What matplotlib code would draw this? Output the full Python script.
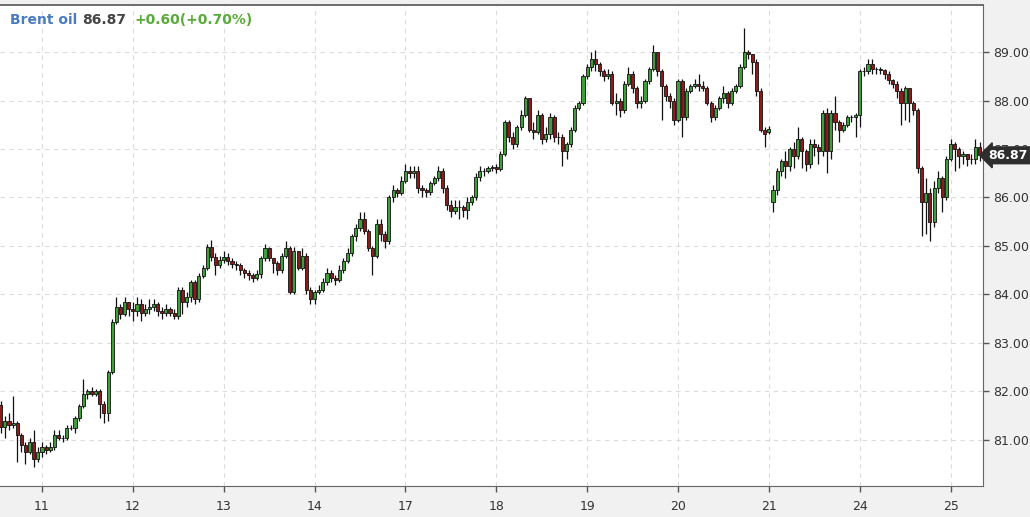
import numpy as np
import matplotlib
matplotlib.use("Agg")
import matplotlib.pyplot as plt

# trading days shown (day 10 and day 25 are partial)
day_labels = ["11", "12", "13", "14", "17", "18", "19", "20", "21", "24", "25"]
bars_per_day = 22
first_day_bars = 10   # bars of day 10 visible before the "11" tick

# hourly candles, one row per day
opens = [
    81.72, 81.27, 81.40, 81.30, 81.35, 81.10, 80.90, 80.75, 80.95, 80.60,
    80.75, 80.85, 80.80, 80.85, 81.10, 81.05, 81.05, 81.25, 81.25, 81.45, 81.70, 81.95, 82.00, 81.95, 82.00, 81.75, 81.55, 82.40, 83.43, 83.74, 83.60, 83.85,
    83.70, 83.65, 83.80, 83.62, 83.70, 83.75, 83.80, 83.65, 83.62, 83.70, 83.62, 83.55, 84.10, 83.85, 83.95, 84.25, 83.90, 84.38, 84.55, 84.98, 84.78, 84.60,
    84.72, 84.78, 84.70, 84.62, 84.60, 84.50, 84.45, 84.40, 84.35, 84.42, 84.75, 84.95, 84.75, 84.65, 84.50, 84.80, 84.95, 84.05, 84.90, 84.55, 84.80, 84.10,
    83.90, 84.05, 84.10, 84.25, 84.45, 84.35, 84.30, 84.50, 84.70, 84.85, 85.20, 85.38, 85.55, 85.30, 84.95, 84.80, 85.45, 85.25, 85.10, 86.00, 86.15, 86.10,
    86.35, 86.55, 86.50, 86.55, 86.20, 86.15, 86.12, 86.30, 86.40, 86.55, 86.20, 85.85, 85.72, 85.80, 85.80, 85.75, 85.90, 86.00, 86.42, 86.55, 86.55, 86.60,
    86.62, 86.58, 86.90, 87.55, 87.25, 87.10, 87.45, 87.70, 88.05, 87.40, 87.35, 87.70, 87.20, 87.30, 87.65, 87.25, 87.25, 86.95, 87.10, 87.40, 87.85, 87.95,
    88.50, 88.70, 88.85, 88.75, 88.60, 88.50, 88.55, 87.95, 88.00, 87.80, 88.35, 88.55, 88.25, 87.95, 88.00, 88.40, 88.65, 89.00, 88.60, 88.30, 88.10, 87.98,
    87.60, 88.40, 87.65, 88.20, 88.30, 88.35, 88.30, 88.25, 87.95, 87.65, 87.85, 88.05, 88.15, 87.95, 88.20, 88.30, 88.70, 89.00, 88.95, 88.80, 88.20, 87.40,
    87.35, 85.90, 86.15, 86.55, 86.75, 86.65, 87.00, 86.85, 87.20, 86.95, 86.70, 87.10, 87.05, 86.95, 87.75, 86.95, 87.75, 87.55, 87.40, 87.50, 87.65, 87.65,
    87.70, 88.60, 88.60, 88.75, 88.65, 88.65, 88.62, 88.55, 88.42, 88.35, 88.20, 87.95, 88.25, 87.95, 87.80, 86.60, 85.90, 86.10, 85.50, 86.20, 86.40, 86.00,
    86.80, 87.10, 87.00, 86.85, 86.90, 86.80, 86.80, 87.05,
]
closes = [
    81.27, 81.40, 81.30, 81.35, 81.10, 80.90, 80.75, 80.95, 80.60, 80.75,
    80.85, 80.80, 80.85, 81.10, 81.05, 81.05, 81.25, 81.25, 81.45, 81.70, 81.95, 82.00, 81.95, 82.00, 81.75, 81.55, 82.40, 83.43, 83.74, 83.60, 83.85, 83.70,
    83.65, 83.80, 83.62, 83.70, 83.75, 83.80, 83.65, 83.62, 83.70, 83.62, 83.55, 84.10, 83.85, 83.95, 84.25, 83.90, 84.38, 84.55, 84.98, 84.78, 84.60, 84.72,
    84.78, 84.70, 84.62, 84.60, 84.50, 84.45, 84.40, 84.35, 84.42, 84.75, 84.95, 84.75, 84.65, 84.50, 84.80, 84.95, 84.05, 84.90, 84.55, 84.80, 84.10, 83.90,
    84.05, 84.10, 84.25, 84.45, 84.35, 84.30, 84.50, 84.70, 84.85, 85.20, 85.38, 85.55, 85.30, 84.95, 84.80, 85.45, 85.25, 85.10, 86.00, 86.15, 86.10, 86.35,
    86.55, 86.50, 86.55, 86.20, 86.15, 86.12, 86.30, 86.40, 86.55, 86.20, 85.85, 85.72, 85.80, 85.80, 85.75, 85.90, 86.00, 86.42, 86.55, 86.55, 86.60, 86.62,
    86.58, 86.90, 87.55, 87.25, 87.10, 87.45, 87.70, 88.05, 87.40, 87.35, 87.70, 87.20, 87.30, 87.65, 87.25, 87.25, 86.95, 87.10, 87.40, 87.85, 87.95, 88.50,
    88.70, 88.85, 88.75, 88.60, 88.50, 88.55, 87.95, 88.00, 87.80, 88.35, 88.55, 88.25, 87.95, 88.00, 88.40, 88.65, 89.00, 88.60, 88.30, 88.10, 87.98, 87.60,
    88.40, 87.65, 88.20, 88.30, 88.35, 88.30, 88.25, 87.95, 87.65, 87.85, 88.05, 88.15, 87.95, 88.20, 88.30, 88.70, 89.00, 88.95, 88.80, 88.20, 87.40, 87.30,
    87.42, 86.15, 86.55, 86.75, 86.65, 87.00, 86.85, 87.20, 86.95, 86.70, 87.10, 87.05, 86.95, 87.75, 86.95, 87.75, 87.55, 87.40, 87.50, 87.65, 87.65, 87.70,
    88.60, 88.60, 88.75, 88.65, 88.65, 88.62, 88.55, 88.42, 88.35, 88.20, 87.95, 88.25, 87.95, 87.80, 86.60, 85.90, 86.10, 85.50, 86.20, 86.40, 86.00, 86.80,
    87.10, 87.00, 86.85, 86.90, 86.80, 86.80, 87.05, 86.87,
]
highs = [
    81.80, 81.50, 81.55, 81.90, 81.40, 81.15, 80.95, 81.05, 81.20, 80.85,
    80.95, 80.90, 80.95, 81.20, 81.20, 81.10, 81.30, 81.30, 81.50, 81.75, 82.25, 82.05, 82.10, 82.05, 82.05, 81.80, 82.45, 83.50, 83.95, 83.80, 83.95, 83.85,
    83.85, 83.95, 83.90, 83.80, 83.90, 83.90, 83.85, 83.75, 83.80, 83.75, 83.70, 84.15, 84.15, 84.05, 84.30, 84.30, 84.45, 84.60, 85.05, 85.12, 84.85, 84.80,
    84.90, 84.85, 84.75, 84.70, 84.65, 84.55, 84.50, 84.45, 84.50, 84.80, 85.05, 84.98, 84.75, 84.70, 84.85, 85.10, 85.00, 84.98, 84.90, 84.95, 84.85, 84.15,
    84.10, 84.20, 84.35, 84.55, 84.50, 84.40, 84.60, 84.75, 84.95, 85.25, 85.45, 85.70, 85.70, 85.35, 85.00, 85.55, 85.55, 85.30, 86.05, 86.25, 86.20, 86.45,
    86.70, 86.65, 86.65, 86.65, 86.25, 86.20, 86.35, 86.45, 86.65, 86.60, 86.25, 85.95, 85.95, 85.95, 85.85, 86.00, 86.05, 86.50, 86.65, 86.60, 86.65, 86.68,
    86.70, 86.95, 87.60, 87.60, 87.35, 87.50, 87.80, 88.10, 88.05, 87.55, 87.80, 87.75, 87.45, 87.75, 87.70, 87.35, 87.30, 87.15, 87.45, 87.90, 88.00, 88.55,
    88.75, 89.00, 89.05, 88.80, 88.65, 88.65, 88.60, 88.15, 88.05, 88.40, 88.70, 88.60, 88.30, 88.10, 88.45, 88.70, 89.15, 89.00, 88.65, 88.35, 88.15, 88.05,
    88.45, 88.45, 88.25, 88.35, 88.45, 88.55, 88.40, 88.30, 88.00, 87.90, 88.10, 88.30, 88.20, 88.25, 88.35, 88.75, 89.50, 89.05, 88.95, 88.85, 88.25, 87.45,
    87.48, 86.25, 86.60, 86.80, 86.95, 87.05, 87.15, 87.45, 87.25, 87.00, 87.20, 87.20, 87.10, 87.80, 87.85, 87.80, 88.10, 87.60, 87.55, 87.70, 87.70, 87.75,
    88.65, 88.70, 88.85, 88.85, 88.70, 88.70, 88.65, 88.60, 88.45, 88.40, 88.25, 88.30, 88.25, 88.00, 87.85, 86.65, 86.40, 86.20, 86.35, 86.55, 86.45, 86.85,
    87.20, 87.15, 87.05, 86.95, 86.90, 86.90, 87.20, 87.15,
]
lows = [
    81.15, 81.05, 81.20, 81.25, 80.55, 80.75, 80.50, 80.70, 80.45, 80.55,
    80.65, 80.70, 80.75, 80.80, 81.00, 80.95, 81.00, 81.20, 81.15, 81.40, 81.65, 81.85, 81.90, 81.90, 81.45, 81.35, 81.40, 82.35, 83.40, 83.50, 83.55, 83.55,
    83.45, 83.55, 83.45, 83.55, 83.60, 83.65, 83.55, 83.50, 83.55, 83.55, 83.50, 83.50, 83.60, 83.75, 83.85, 83.80, 83.85, 84.35, 84.50, 84.70, 84.40, 84.55,
    84.65, 84.60, 84.55, 84.50, 84.40, 84.35, 84.30, 84.25, 84.30, 84.35, 84.70, 84.70, 84.45, 84.40, 84.45, 84.75, 84.00, 84.00, 84.50, 84.50, 84.00, 83.80,
    83.80, 84.00, 84.05, 84.20, 84.25, 84.20, 84.25, 84.45, 84.65, 84.80, 85.10, 85.30, 85.25, 84.90, 84.40, 84.75, 85.10, 84.95, 85.05, 85.90, 86.00, 86.05,
    86.30, 86.40, 86.40, 86.10, 86.00, 86.00, 86.05, 86.25, 86.35, 86.10, 85.75, 85.60, 85.65, 85.55, 85.60, 85.55, 85.85, 85.95, 86.35, 86.45, 86.50, 86.55,
    86.50, 86.55, 86.85, 87.15, 87.00, 87.05, 87.40, 87.65, 87.35, 87.20, 87.30, 87.10, 87.15, 87.20, 87.15, 87.10, 86.65, 86.80, 87.05, 87.35, 87.80, 87.90,
    88.45, 88.60, 88.60, 88.50, 88.40, 88.45, 87.90, 87.70, 87.65, 87.75, 88.30, 88.15, 87.85, 87.85, 87.95, 88.35, 88.60, 88.50, 87.60, 88.00, 87.85, 87.50,
    87.55, 87.25, 87.60, 88.15, 88.25, 88.20, 88.20, 87.90, 87.55, 87.60, 87.80, 87.95, 87.85, 87.90, 88.15, 88.25, 88.65, 88.85, 88.55, 88.10, 87.35, 87.05,
    87.30, 85.70, 86.05, 86.45, 86.40, 86.55, 86.60, 86.80, 86.60, 86.55, 86.60, 86.85, 86.70, 86.85, 86.50, 86.80, 87.40, 87.15, 87.35, 87.45, 87.55, 87.25,
    87.45, 88.50, 88.55, 88.55, 88.55, 88.55, 88.45, 88.35, 88.25, 88.05, 87.50, 87.60, 87.55, 87.70, 86.50, 85.20, 85.25, 85.10, 85.40, 86.10, 85.70, 85.95,
    86.75, 86.55, 86.60, 86.70, 86.65, 86.70, 86.70, 86.75,
]

last_price = 86.87
price_ticks = [81, 82, 83, 84, 85, 86, 87, 88, 89]

GREEN = "#3e9e3a"
RED = "#8c1c1c"

o = np.array(opens)
c = np.array(closes)
h = np.array(highs)
l = np.array(lows)
x = np.arange(len(c)) - first_day_bars

fig = plt.figure(figsize=(10.30, 5.17), dpi=100, facecolor="#f1f1f1")
# plot area spans pixels x 0..983, y 5..486
ax = fig.add_axes([0.0, 1 - 486 / 517, 983 / 1030, 481 / 517])
ax.set_facecolor("white")

# wicks then bodies
ax.vlines(x, l, h, color="#111111", linewidth=0.9, zorder=2)
up = c >= o
bottoms = np.minimum(o, c)
heights = np.abs(c - o)
ax.bar(x[up], heights[up], bottom=bottoms[up], width=0.75,
       color=GREEN, edgecolor="#111111", linewidth=0.6, zorder=3)
ax.bar(x[~up], heights[~up], bottom=bottoms[~up], width=0.75,
       color=RED, edgecolor="#111111", linewidth=0.6, zorder=3)

ax.set_xlim(-42 / 4.13, (983 - 42) / 4.13)
ax.set_ylim(80.05, 89.97)

day_ticks = [i * bars_per_day for i in range(len(day_labels))]
ax.set_xticks(day_ticks)
ax.set_xticklabels(day_labels)
ax.set_yticks(price_ticks)
ax.set_yticklabels([f"{p:.2f}" for p in price_ticks])
ax.yaxis.tick_right()

ax.grid(True, color="#dcdcdc", linestyle=(0, (4, 4)), linewidth=0.8, zorder=0)
ax.tick_params(axis="both", colors="#555555", labelcolor="#333333",
               labelsize=9, length=4, width=1)
ax.tick_params(axis="x", pad=6)
ax.tick_params(axis="y", pad=3)

ax.spines["left"].set_visible(False)
ax.spines["right"].set_color("#666666")
ax.spines["bottom"].set_color("#666666")
ax.spines["top"].set_color("#555555")
ax.spines["top"].set_linewidth(1.2)

# last price marker
ax.annotate(f"{last_price:.2f}", xy=(1.0, last_price), xycoords=("axes fraction", "data"),
            xytext=(4, 0), textcoords="offset points", va="center", ha="left",
            color="white", fontsize=9, fontweight="bold",
            bbox=dict(boxstyle="larrow,pad=0.15", fc="#2e2e2e", ec="#2e2e2e"),
            zorder=5, annotation_clip=False)

# header line
fig.text(10 / 1030, 1 - 20 / 517, "Brent oil", color="#4a7cc0", fontsize=10,
         fontweight="bold", va="center")
fig.text(82 / 1030, 1 - 20 / 517, f"{last_price:.2f}", color="#454545", fontsize=10,
         fontweight="bold", va="center")
fig.text(135 / 1030, 1 - 20 / 517, "+0.60(+0.70%)", color="#5aaa3c", fontsize=10,
         fontweight="bold", va="center")

fig.savefig("out.png", dpi=100, facecolor=fig.get_facecolor())
